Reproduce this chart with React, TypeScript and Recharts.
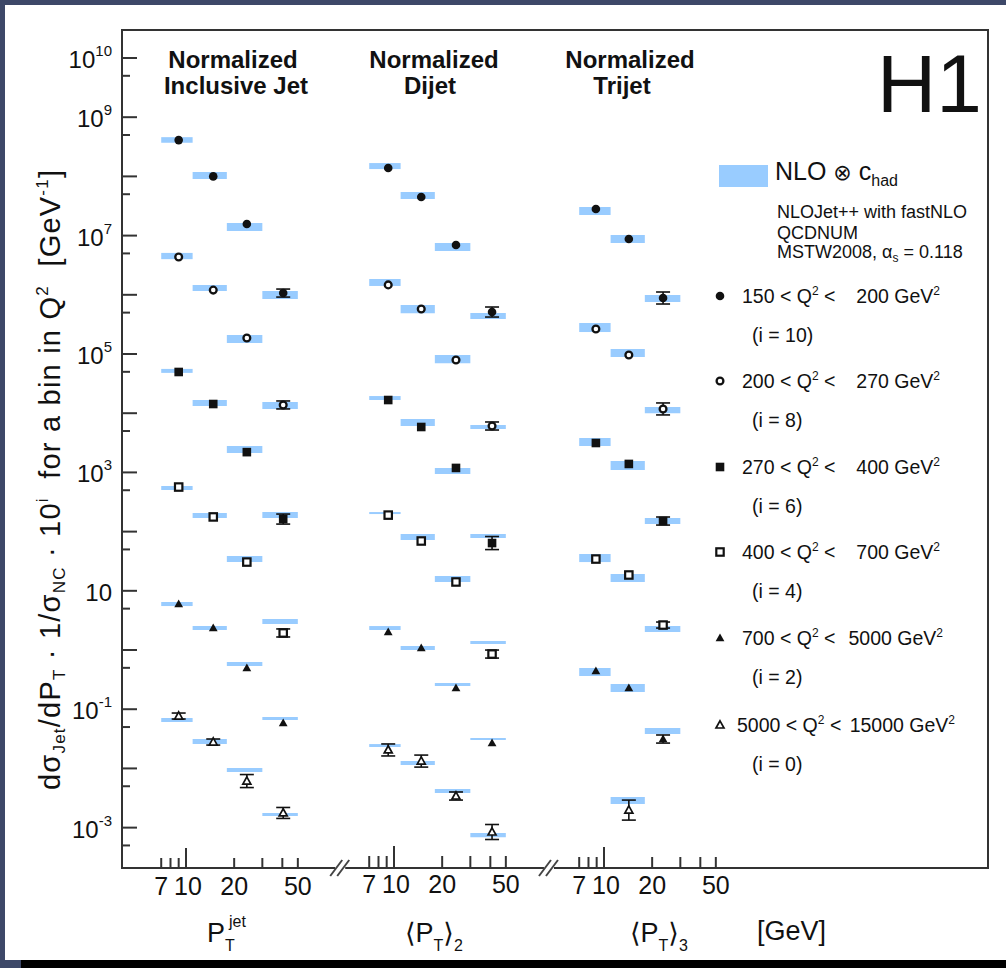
import React from 'react';
import { ComposedChart, Scatter, XAxis, YAxis, ErrorBar, ReferenceArea, ReferenceDot } from 'recharts';

const FONT = '"Liberation Sans", Arial, Helvetica, "DejaVu Sans", sans-serif';
const BAND = '#99ccff';
const INK = '#111111';
const AXIS = '#333333';

// ---------- axes / ticks ----------
const binEdges = [7, 11, 18, 30, 50];
const xTicks = [7, 8, 9, 10, 20, 30, 40, 50];
const xTickLabels = [7, 10, 20, 50];
const yMajorTicks = [1e-3, 1e-2, 1e-1, 1, 10, 1e2, 1e3, 1e4, 1e5, 1e6, 1e7, 1e8, 1e9, 1e10];
const yMinorTicks = [5e-4, 5e-3, 5e-2, 0.5, 5, 50, 500, 5e3, 5e4, 5e5, 5e6, 5e7, 5e8, 5e9];
const yLabelExps = [10, 9, 7, 5, 3, 1, -1, -3];
const yDomain = [2.08e-4, 2.97e10];
const incDomain = [3.981, 1.029e6];
const diDomain = [0.1995, 5.159e4];
const triDomain = [0.00972, 2512];
const axisBreakAt = [92, 93];

// ---------- series (Q2 bins) ----------
const seriesMarkers = ['fcircle', 'ocircle', 'fsquare', 'osquare', 'ftri', 'otri'];
const seriesQ2Lo = ['150', '200', '270', '400', '700', '5000'];
const seriesQ2Hi = ['200', '270', '400', '700', '5000', '15000'];
const seriesScaleExp = [10, 8, 6, 4, 2, 0];

// ---------- Normalized inclusive jet ----------
const incJetX = [9, 14.8, 24, 40.5];
const incJetPoints = [
  [4.1e8, 1.0e8, 1.57e7, 1.07e6],
  [4.35e6, 1.2e6, 1.86e5, 1.38e4],
  [4.97e4, 1.43e4, 2.2e3, 163],
  [566, 177, 30.6, 1.94],
  [5.98, 2.35, 0.497, 0.0585],
  [0.0767, 0.0279, 0.00612, 0.00177],
];
const incJetNloLo = [
  [3.7e8, 9.0e7, 1.2e7, 8.5e5],
  [4.0e6, 1.16e6, 1.53e5, 1.18e4],
  [4.8e4, 1.32e4, 2.13e3, 170],
  [505, 170, 30.6, 2.75],
  [5.53, 2.18, 0.537, 0.0657],
  [0.0608, 0.0258, 0.00869, 0.00157],
];
const incJetNloHi = [
  [4.6e8, 1.19e8, 1.63e7, 1.16e6],
  [5.1e6, 1.47e6, 2.1e5, 1.55e4],
  [5.6e4, 1.67e4, 2.8e3, 214],
  [589, 206, 38.7, 3.34],
  [6.47, 2.54, 0.627, 0.0738],
  [0.071, 0.0314, 0.01016, 0.00177],
];
const incJetErrs = [
  [null, null, null, [1.55e5, 1.8e5]],
  [null, null, null, [2.0e3, 2.3e3]],
  [null, null, null, [29, 35]],
  [null, null, null, [0.28, 0.33]],
  [null, null, null, null],
  [[0.0084, 0.0095], [0.0031, 0.0035], [0.00137, 0.00176], [0.00034, 0.00042]],
];

// ---------- Normalized dijet ----------
const dijetX = [9.2, 14.8, 24.4, 41];
const dijetPoints = [
  [1.39e8, 4.49e7, 6.94e6, 5.12e5],
  [1.47e6, 5.75e5, 7.9e4, 6.08e3],
  [1.67e4, 5.85e3, 1.19e3, 64.1],
  [190, 69.4, 14.1, 0.855],
  [2.01, 1.08, 0.228, 0.0269],
  [0.0205, 0.0133, 0.00342, 0.000843],
];
const dijetNloLo = [
  [1.33e8, 4.15e7, 5.5e6, 3.9e5],
  [1.41e6, 4.9e5, 7.0e4, 5.4e3],
  [1.67e4, 6.08e3, 940, 78],
  [198, 72, 14.1, 1.26],
  [2.18, 1.0, 0.247, 0.0302],
  [0.023, 0.0114, 0.00384, 0.00069],
];
const dijetNloHi = [
  [1.68e8, 5.45e7, 7.5e6, 4.93e5],
  [1.85e6, 6.7e5, 9.6e4, 6.3e3],
  [1.95e4, 7.98e3, 1.19e3, 91],
  [214, 91, 17.8, 1.42],
  [2.54, 1.17, 0.277, 0.0327],
  [0.0258, 0.0133, 0.00449, 0.00081],
];
const dijetErrs = [
  [null, null, null, [9.1e4, 1.1e5]],
  [null, null, null, [880, 1030]],
  [null, null, null, [14.4, 18.5]],
  [null, null, null, [0.124, 0.144]],
  [null, null, null, null],
  [[0.00426, 0.0054], [0.00277, 0.0035], [0.0005, 0.00058], [0.000213, 0.000286]],
];

// ---------- Normalized trijet ----------
const trijetX = [8.9, 14.3, 23.4];
const trijetPoints = [
  [2.81e7, 8.77e6, 8.83e5],
  [2.64e5, 9.6e4, 1.18e4],
  [3.14e3, 1.39e3, 151],
  [34.4, 18.5, 2.64],
  [0.442, 0.228, 0.0314],
  [null, 0.00198, null],
];
const trijetNloLo = [
  [2.23e7, 7.5e6, 7.55e5],
  [2.35e5, 8.9e4, 1.0e4],
  [2.79e3, 1.1e3, 134],
  [30.6, 14.1, 2.01],
  [0.364, 0.195, 0.0381],
  [null, 0.00251, null],
];
const trijetNloHi = [
  [3.04e7, 1.02e7, 9.9e5],
  [3.34e5, 1.21e5, 1.27e4],
  [3.81e3, 1.56e3, 170],
  [41.9, 19.2, 2.54],
  [0.497, 0.267, 0.0481],
  [null, 0.00329, null],
];
const trijetErrs = [
  [null, null, [1.84e5, 2.32e5]],
  [null, null, [2.45e3, 3.1e3]],
  [null, null, [22, 25.5]],
  [null, null, [0.29, 0.33]],
  [null, null, [0.0046, 0.0053]],
  [null, [0.00064, 0.00094], null],
];

const panels = [
  { id: 'inc', domain: incDomain, xs: incJetX, pts: incJetPoints, lo: incJetNloLo, hi: incJetNloHi, errs: incJetErrs },
  { id: 'di', domain: diDomain, xs: dijetX, pts: dijetPoints, lo: dijetNloLo, hi: dijetNloHi, errs: dijetErrs },
  { id: 'tri', domain: triDomain, xs: trijetX, pts: trijetPoints, lo: trijetNloLo, hi: trijetNloHi, errs: trijetErrs },
];

function Marker({ kind, cx, cy }: { kind: string; cx: number; cy: number }) {
  if (cx == null || cy == null) return null;
  switch (kind) {
    case 'fcircle':
      return <circle cx={cx} cy={cy} r={4.3} fill={INK} />;
    case 'ocircle':
      return <circle cx={cx} cy={cy} r={3.4} fill="#fff" stroke={INK} strokeWidth={2.3} />;
    case 'fsquare':
      return <rect x={cx - 4.3} y={cy - 4.3} width={8.6} height={8.6} fill={INK} />;
    case 'osquare':
      return <rect x={cx - 3.7} y={cy - 3.7} width={7.4} height={7.4} fill="#fff" stroke={INK} strokeWidth={2.2} />;
    case 'ftri':
      return <path d={`M${cx},${cy - 4.6}L${cx + 4.4},${cy + 3.2}L${cx - 4.4},${cy + 3.2}Z`} fill={INK} />;
    case 'otri':
      return (
        <path d={`M${cx},${cy - 4.2}L${cx + 4},${cy + 3}L${cx - 4},${cy + 3}Z`} fill="#fff" stroke={INK} strokeWidth={1.7} />
      );
    default:
      return null;
  }
}

const XTick = (props: any) => {
  const { x, payload, shift } = props;
  const y = props.y - (shift || 0);
  const v = payload.value;
  const len = v === 10 ? 21 : 11;
  return (
    <g>
      <line x1={x} x2={x} y1={y} y2={y - len} stroke={AXIS} strokeWidth={2} />
      {xTickLabels.includes(v) && (
        <text x={x + (v === 10 ? 2 : 0)} y={y + 26} textAnchor="middle" fontSize={25} fontFamily={FONT} fill={INK}>
          {v}
        </text>
      )}
    </g>
  );
};

const YTick = (props: any) => {
  const { x, y, payload } = props;
  const v = payload.value;
  const e = Math.log10(v);
  const exp = Math.round(e);
  const major = Math.abs(e - exp) < 1e-6;
  const len = major ? 15 : 8;
  const labeled = major && yLabelExps.includes(exp);
  return (
    <g>
      <line x1={x} x2={x + len} y1={y} y2={y} stroke={AXIS} strokeWidth={2} />
      {labeled && (
        <text x={x - 10} y={y + 10} textAnchor="end" fontSize={24} fontFamily={FONT} fill={INK}>
          10
          {exp !== 1 && (
            <tspan fontSize={15} dy={-12}>
              {String(exp)}
            </tspan>
          )}
        </text>
      )}
    </g>
  );
};

const BreakMark = (props: any) => {
  const { cx, cy } = props;
  if (cx == null || cy == null) return null;
  return (
    <g>
      <rect x={cx - 5} y={cy - 3} width={10} height={6} fill="#fff" />
      <line x1={cx - 10} y1={cy + 8} x2={cx + 2} y2={cy - 8} stroke="#444" strokeWidth={2} />
      <line x1={cx - 3} y1={cy + 8} x2={cx + 9} y2={cy - 8} stroke="#444" strokeWidth={2} />
    </g>
  );
};

export default function App() {
  const legendY = [296, 381, 467, 552, 638, 725];
  const t = { fontFamily: FONT, fill: INK } as const;
  return (
    <div style={{ position: 'fixed', left: 0, top: 0, width: 1006, height: 968, background: '#3d4868', overflow: 'hidden' }}>
      <div style={{ position: 'absolute', left: 5, top: 5, width: 1001, height: 955, background: '#ffffff' }} />
      <div style={{ position: 'absolute', left: 21, top: 960, width: 985, height: 8, background: '#000000' }} />
      <div style={{ position: 'absolute', left: 0, top: 0 }}>
        <ComposedChart width={1006} height={968} margin={{ top: 30, right: 18, bottom: 97, left: 121 }}>
          {panels.map((p, idx) => (
            <XAxis
              key={p.id}
              xAxisId={p.id}
              dataKey="x"
              type="number"
              scale="log"
              domain={p.domain}
              allowDataOverflow
              ticks={xTicks}
              interval={0}
              height={1}
              axisLine={false}
              tickLine={false}
              tickSize={0}
              tickMargin={0}
              tick={(tp: any) => <XTick {...tp} shift={idx} />}
            />
          ))}
          <YAxis
            yAxisId="y"
            dataKey="y"
            type="number"
            scale="log"
            domain={yDomain}
            allowDataOverflow
            ticks={[...yMinorTicks, ...yMajorTicks]}
            interval={0}
            width={1}
            axisLine={false}
            tickLine={false}
            tickSize={0}
            tickMargin={0}
            tick={(tp: any) => <YTick {...tp} />}
          />
          {panels.flatMap((p) =>
            p.lo.flatMap((row, s) =>
              row.map((lo, k) =>
                lo == null ? null : (
                  <ReferenceArea
                    key={`band-${p.id}-${s}-${k}`}
                    xAxisId={p.id}
                    yAxisId="y"
                    x1={binEdges[k]}
                    x2={binEdges[k + 1]}
                    y1={lo}
                    y2={p.hi[s][k] as number}
                    fill={BAND}
                    fillOpacity={1}
                    stroke="none"
                    ifOverflow="visible"
                  />
                )
              )
            )
          )}
          <ReferenceArea
            xAxisId="inc"
            yAxisId="y"
            x1={incDomain[0]}
            x2={incDomain[1]}
            y1={yDomain[0]}
            y2={yDomain[1]}
            fill="none"
            fillOpacity={0}
            stroke={AXIS}
            strokeWidth={2}
            ifOverflow="visible"
          />
          {panels.flatMap((p) =>
            p.pts.map((row, s) => {
              const data = row
                .map((v, k) => (v == null ? null : { x: p.xs[k], y: v, err: p.errs[s][k] ?? undefined }))
                .filter(Boolean) as any[];
              const kind = seriesMarkers[s];
              return (
                <Scatter
                  key={`pts-${p.id}-${s}`}
                  xAxisId={p.id}
                  yAxisId="y"
                  data={data}
                  isAnimationActive={false}
                  shape={(sp: any) => <Marker kind={kind} cx={sp.cx} cy={sp.cy} />}
                >
                  <ErrorBar dataKey="err" direction="y" width={7} stroke={INK} strokeWidth={1.6} isAnimationActive={false} />
                </Scatter>
              );
            })
          )}
          <ReferenceDot xAxisId="inc" yAxisId="y" x={axisBreakAt[0]} y={yDomain[0]} r={0} ifOverflow="visible" shape={(bp: any) => <BreakMark {...bp} />} />
          <ReferenceDot xAxisId="di" yAxisId="y" x={axisBreakAt[1]} y={yDomain[0]} r={0} ifOverflow="visible" shape={(bp: any) => <BreakMark {...bp} />} />
        </ComposedChart>
      </div>
      <svg width={1006} height={968} style={{ position: 'absolute', left: 0, top: 0, pointerEvents: 'none' }}>
        {/* panel titles */}
        <g fontWeight="bold" fontSize={24} textAnchor="middle" {...t}>
          <text x={233} y={68}>Normalized</text>
          <text x={236} y={94}>Inclusive Jet</text>
          <text x={434} y={68}>Normalized</text>
          <text x={430} y={94}>Dijet</text>
          <text x={630} y={68}>Normalized</text>
          <text x={622} y={94}>Trijet</text>
        </g>
        <text x={877} y={112} fontSize={82} {...t}>H1</text>
        {/* NLO legend */}
        <rect x={719} y={165} width={49} height={22} fill={BAND} />
        <text x={775} y={180} fontSize={25} {...t}>
          NLO <tspan fontSize={22}>⊗</tspan> c<tspan fontSize={16} dy={6}>had</tspan>
        </text>
        <text x={777} y={218} fontSize={18} {...t}>NLOJet++ with fastNLO</text>
        <text x={777} y={239} fontSize={18} {...t}>QCDNUM</text>
        <text x={777} y={258} fontSize={18} {...t}>
          MSTW2008, α<tspan fontSize={12} dy={4}>s</tspan><tspan dy={-4}> = 0.118</tspan>
        </text>
        {seriesMarkers.map((kind, s) => {
          const cy = legendY[s];
          const last = s === seriesMarkers.length - 1;
          return (
            <g key={kind}>
              <Marker kind={kind} cx={720} cy={cy} />
              <text x={last ? 737 : 742} y={cy + 7} fontSize={19.5} {...t}>
                {seriesQ2Lo[s]} &lt; Q<tspan fontSize={12} dy={-8}>2</tspan><tspan dy={8}> &lt;</tspan>
              </text>
              <text x={last ? 955 : s === 4 ? 943 : 940} y={cy + 7} fontSize={19.5} textAnchor="end" {...t}>
                {seriesQ2Hi[s]} GeV<tspan fontSize={12} dy={-8}>2</tspan>
              </text>
              <text x={752} y={cy + 46} fontSize={19.5} {...t}>
                (i = {seriesScaleExp[s]})
              </text>
            </g>
          );
        })}
        {/* y axis title */}
        <g transform="translate(60,480) rotate(-90)">
          <text x={0} y={0} textAnchor="middle" fontSize={29} textLength={620} lengthAdjust="spacing" style={{ whiteSpace: 'pre' }} {...t}>
            dσ<tspan fontSize={17} dy={5}>Jet</tspan>
            <tspan dy={-5}>/dP</tspan>
            <tspan fontSize={17} dy={5}>T</tspan>
            <tspan dy={-5}>{' · 1/σ'}</tspan>
            <tspan fontSize={17} dy={5}>NC</tspan>
            <tspan dy={-5}>{' · 10'}</tspan>
            <tspan fontSize={17} dy={-12}>i</tspan>
            <tspan dy={12}>{'  for a bin in Q'}</tspan>
            <tspan fontSize={17} dy={-12}>2</tspan>
            <tspan dy={12}>{'  [GeV'}</tspan>
            <tspan fontSize={17} dy={-12}>-1</tspan>
            <tspan dy={12}>]</tspan>
          </text>
        </g>
        {/* x axis titles */}
        <text x={207} y={942} fontSize={27} {...t}>
          P<tspan fontSize={16} dy={9}>T</tspan>
        </text>
        <text x={229} y={927} fontSize={16} {...t}>jet</text>

        <text x={405} y={942} fontSize={27} {...t}>
          ⟨P<tspan fontSize={16} dy={9}>T</tspan><tspan dy={-9}>⟩</tspan><tspan fontSize={16} dy={9}>2</tspan>
        </text>
        <text x={630} y={942} fontSize={27} {...t}>
          ⟨P<tspan fontSize={16} dy={9}>T</tspan><tspan dy={-9}>⟩</tspan><tspan fontSize={16} dy={9}>3</tspan>
        </text>

        <text x={757} y={940} fontSize={27} {...t}>[GeV]</text>
      </svg>
    </div>
  );
}
